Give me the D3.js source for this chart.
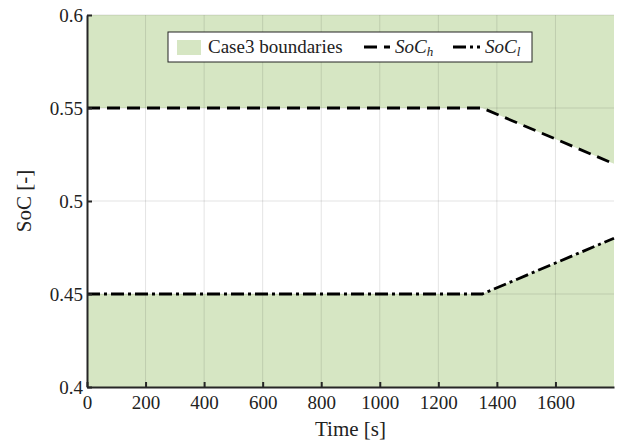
<!DOCTYPE html>
<html>
<head>
<meta charset="utf-8">
<script src="https://cdn.jsdelivr.net/npm/d3@7"></script>
<style>
  body { margin: 0; background: #fff; }
  text { font-family: 'Liberation Serif', 'DejaVu Serif', serif; fill: #222; }
</style>
</head>
<body>
<script>
const time = [0, 1350, 1800]
const socH = [0.55, 0.55, 0.52]
const socL = [0.45, 0.45, 0.48]
const xTicks = [0, 200, 400, 600, 800, 1000, 1200, 1400, 1600]
const yTicks = [0.4, 0.45, 0.5, 0.55, 0.6]

const margins = { top: 15, right: 8, bottom: 56, left: 87 }
const width = 622 - margins.left - margins.right
const height = 443 - margins.top - margins.bottom

const green = '#d6e6c3'

let x = d3.scaleLinear().domain([0, 1800]).range([0, width])
let y = d3.scaleLinear().domain([0.4, 0.6]).range([height, 0])

let svg = d3.select('body').append('svg')
    .attr('width', 622)
    .attr('height', 443)
  .append('g')
    .attr('transform', 'translate(' + [margins.left, margins.top] + ')')

let pts = time.map((t, i) => ({ t: t, h: socH[i], l: socL[i] }))

// boundary areas
svg.append('path')
  .attr('fill', green)
  .attr('d', d3.area().x(d => x(d.t)).y0(y(0.6)).y1(d => y(d.h))(pts))

svg.append('path')
  .attr('fill', green)
  .attr('d', d3.area().x(d => x(d.t)).y0(y(0.4)).y1(d => y(d.l))(pts))

// grid
svg.append('g')
  .selectAll('line')
  .data(xTicks.slice(1))
  .enter().append('line')
    .attr('x1', d => x(d)).attr('x2', d => x(d))
    .attr('y1', 0).attr('y2', height)
    .attr('stroke', 'rgba(0,0,0,0.11)')
    .attr('stroke-width', 1)

svg.append('g')
  .selectAll('line')
  .data(yTicks.slice(1))
  .enter().append('line')
    .attr('x1', 0).attr('x2', width)
    .attr('y1', d => y(d)).attr('y2', d => y(d))
    .attr('stroke', 'rgba(0,0,0,0.11)')
    .attr('stroke-width', 1)

// lines
let lineH = d3.line().x(d => x(d.t)).y(d => y(d.h))
let lineL = d3.line().x(d => x(d.t)).y(d => y(d.l))

svg.append('path')
  .attr('fill', 'none')
  .attr('stroke', '#000')
  .attr('stroke-width', 2.8)
  .attr('stroke-dasharray', '13,7')
  .attr('d', lineH(pts))

svg.append('path')
  .attr('fill', 'none')
  .attr('stroke', '#000')
  .attr('stroke-width', 2.8)
  .attr('stroke-dasharray', '13,4,3,4')
  .attr('d', lineL(pts))

// axes
let xAxis = svg.append('g')
  .attr('transform', 'translate(' + [0, height] + ')')
  .call(d3.axisBottom(x).tickValues(xTicks).tickFormat(d3.format('d')).tickSizeInner(-5).tickSizeOuter(0).tickPadding(8))
let yAxis = svg.append('g')
  .call(d3.axisLeft(y).tickValues(yTicks).tickFormat(d3.format('')).tickSizeInner(-5).tickSizeOuter(0).tickPadding(4))

for (let a of [xAxis, yAxis]) {
  a.select('.domain').attr('stroke', '#262626').attr('stroke-width', 2)
  a.selectAll('.tick line').attr('stroke', '#262626').attr('stroke-width', 2)
  a.selectAll('.tick text').attr('font-size', 19).style('font-family', "'Liberation Serif', serif").attr('fill', '#222')
}
xAxis.selectAll('.tick text').attr('dy', '0.72em')

svg.append('text')
  .attr('x', width / 2)
  .attr('y', height + 49)
  .attr('text-anchor', 'middle')
  .attr('font-size', 21)
  .text('Time [s]')

svg.append('text')
  .attr('transform', 'translate(' + [-56, height / 2] + ') rotate(-90)')
  .attr('text-anchor', 'middle')
  .attr('font-size', 21)
  .text('SoC [-]')

// legend
let lg = svg.append('g').attr('transform', 'translate(' + [168 - margins.left, 32 - margins.top] + ')')
lg.append('rect')
  .attr('width', 364).attr('height', 30)
  .attr('fill', '#fff')
  .attr('stroke', '#222')
  .attr('stroke-width', 1)
lg.append('rect')
  .attr('x', 9).attr('y', 8).attr('width', 24).attr('height', 15)
  .attr('fill', green)
lg.append('text')
  .attr('x', 40).attr('y', 21)
  .attr('font-size', 19)
  .text('Case3 boundaries')
lg.append('line')
  .attr('x1', 196).attr('x2', 222).attr('y1', 15).attr('y2', 15)
  .attr('stroke', '#000').attr('stroke-width', 2.8)
  .attr('stroke-dasharray', '13,7')
let th = lg.append('text')
  .attr('x', 227).attr('y', 21)
  .attr('font-size', 19)
  .style('font-style', 'italic')
th.append('tspan').text('SoC')
th.append('tspan').attr('font-size', 13).attr('dy', 3).text('h')
lg.append('line')
  .attr('x1', 285).attr('x2', 312).attr('y1', 15).attr('y2', 15)
  .attr('stroke', '#000').attr('stroke-width', 2.8)
  .attr('stroke-dasharray', '13,4,3,4')
let tl = lg.append('text')
  .attr('x', 317).attr('y', 21)
  .attr('font-size', 19)
  .style('font-style', 'italic')
tl.append('tspan').text('SoC')
tl.append('tspan').attr('font-size', 13).attr('dy', 3).text('l')
</script>
</body>
</html>
